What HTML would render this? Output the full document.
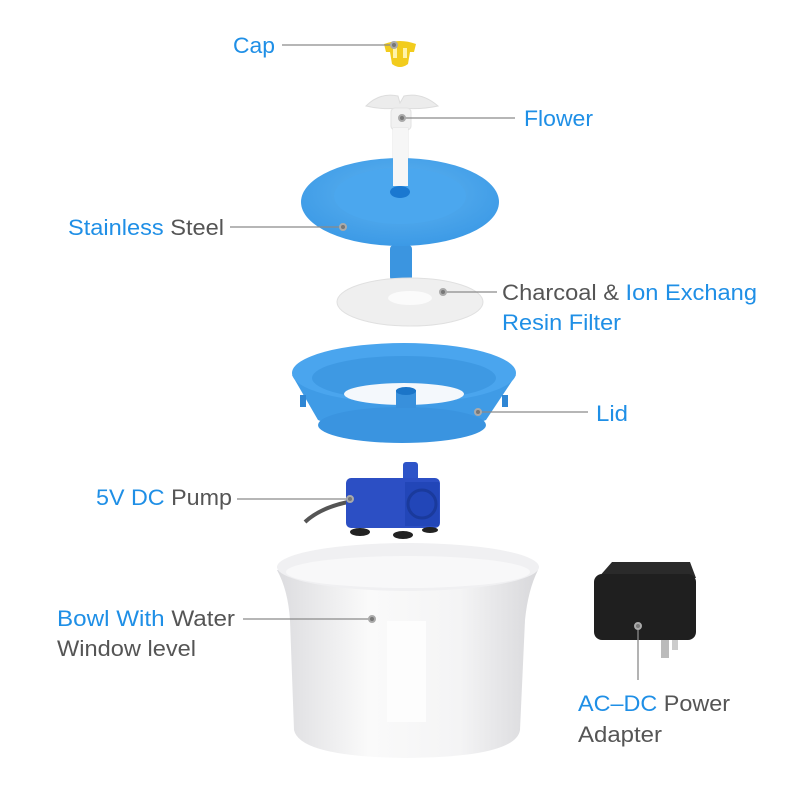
<!DOCTYPE html>
<html><head><style>
body{margin:0;background:#fff;}
svg{display:block;}
text{font-family:"Liberation Sans",sans-serif;font-size:22px;}
.b{fill:#1f8fe6;} .g{fill:#555;}
</style></head><body>
<svg width="800" height="800" viewBox="0 0 800 800" xmlns="http://www.w3.org/2000/svg">
<defs>
<linearGradient id="bowl" x1="0" x2="1" y1="0" y2="0">
<stop offset="0" stop-color="#dcdcdf"/><stop offset="0.35" stop-color="#fafafa"/><stop offset="0.7" stop-color="#f4f4f5"/><stop offset="1" stop-color="#d8d8db"/></linearGradient>
<radialGradient id="blue" cx="0.5" cy="0.4" r="0.6"><stop offset="0" stop-color="#5fb3f0"/><stop offset="1" stop-color="#3c9ae6"/></radialGradient>
</defs>
<!-- Cap -->
<path d="M384 44 Q400 38 416 44 L414 52 L410 52 L408 64 Q400 70 392 64 L390 52 L386 52 Z" fill="#f2cc1d"/>
<rect x="393" y="48" width="4" height="10" fill="#fff3a8"/><rect x="403" y="48" width="4" height="10" fill="#fff3a8"/>
<!-- Flower -->
<path d="M366 106 Q380 92 398 96 L400 103 L404 96 Q422 92 438 106 Q420 110 400 108 Q382 110 366 106 Z" fill="#ececec" stroke="#ddd"/>
<rect x="391" y="108" width="20" height="22" rx="4" fill="#f1f1f1" stroke="#e2e2e2"/>
<rect x="393" y="128" width="15" height="60" fill="#f6f6f6" stroke="#e4e4e4"/>
<!-- Steel plate -->
<rect x="390" y="245" width="22" height="36" rx="4" fill="#3b95e0"/>
<ellipse cx="400" cy="202" rx="99" ry="44" fill="url(#blue)"/>
<ellipse cx="400" cy="196" rx="66" ry="28" fill="#4ba7ee"/>
<ellipse cx="400" cy="192" rx="10" ry="6" fill="#1a78d0"/>
<rect x="393" y="128" width="15" height="58" fill="#f6f6f6"/>
<!-- Filter -->
<ellipse cx="410" cy="302" rx="73" ry="24" fill="#efefef" stroke="#e0e0e0"/>
<ellipse cx="410" cy="298" rx="22" ry="7" fill="#fbfbfb"/>
<!-- Lid -->
<path d="M292 375 L318 420 Q402 455 486 420 L516 375 Z" fill="#3f9be6"/>
<ellipse cx="402" cy="425" rx="84" ry="18" fill="#3a94e0"/>
<ellipse cx="404" cy="373" rx="112" ry="30" fill="#4aa5ee"/>
<ellipse cx="404" cy="378" rx="92" ry="22" fill="#3e99e3"/>
<ellipse cx="404" cy="394" rx="60" ry="11" fill="#f4f8fc"/>
<rect x="396" y="390" width="20" height="18" fill="#3890dc"/><ellipse cx="406" cy="391" rx="10" ry="4" fill="#1b75c8"/>
<rect x="300" y="395" width="6" height="12" fill="#2f86d4"/><rect x="502" y="395" width="6" height="12" fill="#2f86d4"/>
<!-- Pump -->
<path d="M348 502 Q320 508 305 522" stroke="#555" stroke-width="4" fill="none"/>
<rect x="403" y="462" width="15" height="22" rx="3" fill="#2d54c8"/>
<rect x="346" y="478" width="94" height="50" rx="5" fill="#2c4fc4"/>
<rect x="405" y="482" width="34" height="44" fill="#2246b8"/>
<circle cx="422" cy="504" r="14" fill="none" stroke="#1a3a9c" stroke-width="3"/>
<ellipse cx="360" cy="532" rx="10" ry="4" fill="#222"/><ellipse cx="403" cy="535" rx="10" ry="4" fill="#222"/><ellipse cx="430" cy="530" rx="8" ry="3" fill="#222"/>
<!-- Bowl -->
<path d="M277 570 Q288 590 290 620 L294 730 Q300 757 408 758 Q516 757 520 730 L525 620 Q528 590 538 570 Z" fill="url(#bowl)"/>
<ellipse cx="408" cy="567" rx="131" ry="24" fill="#f0f0f2"/>
<ellipse cx="408" cy="572" rx="122" ry="16" fill="#f8f8f9"/>
<rect x="387" y="621" width="39" height="101" fill="#fdfdfd"/>
<!-- Adapter -->
<rect x="661" y="636" width="8" height="22" fill="#bbb"/><rect x="672" y="636" width="6" height="14" fill="#ccc"/>
<path d="M612 562 L690 562 L696 578 L598 578 Z" fill="#2a2a2a"/>
<rect x="594" y="574" width="102" height="66" rx="8" fill="#1f1f1f"/>
<!-- Leader lines -->
<g stroke="#8a8a8a" stroke-width="1.3">
<line x1="282" y1="45" x2="394" y2="45"/>
<line x1="402" y1="118" x2="515" y2="118"/>
<line x1="230" y1="227" x2="343" y2="227"/>
<line x1="443" y1="292" x2="497" y2="292"/>
<line x1="478" y1="412" x2="588" y2="412"/>
<line x1="237" y1="499" x2="350" y2="499"/>
<line x1="243" y1="619" x2="372" y2="619"/>
<line x1="638" y1="628" x2="638" y2="680"/>
</g>
<g fill="#777" stroke="#aaa" stroke-width="2">
<circle cx="394" cy="45" r="3"/><circle cx="402" cy="118" r="3"/><circle cx="343" cy="227" r="3"/>
<circle cx="443" cy="292" r="3"/><circle cx="478" cy="412" r="3"/><circle cx="350" cy="499" r="3"/>
<circle cx="372" cy="619" r="3"/><circle cx="638" cy="626" r="3"/>
</g>
<!-- Labels -->
<text x="233" y="53" class="b" textLength="42" lengthAdjust="spacingAndGlyphs">Cap</text>
<text x="524" y="126" class="b" textLength="69" lengthAdjust="spacingAndGlyphs">Flower</text>
<text x="68" y="235" textLength="156" lengthAdjust="spacingAndGlyphs"><tspan class="b">Stainless</tspan><tspan class="g"> Steel</tspan></text>
<text x="502" y="300" textLength="255" lengthAdjust="spacingAndGlyphs"><tspan class="g">Charcoal &amp; </tspan><tspan class="b">Ion Exchang</tspan></text>
<text x="502" y="330" class="b" textLength="119" lengthAdjust="spacingAndGlyphs">Resin Filter</text>
<text x="596" y="421" class="b" textLength="32" lengthAdjust="spacingAndGlyphs">Lid</text>
<text x="96" y="505" textLength="136" lengthAdjust="spacingAndGlyphs"><tspan class="b">5V DC</tspan><tspan class="g"> Pump</tspan></text>
<text x="57" y="626" textLength="178" lengthAdjust="spacingAndGlyphs"><tspan class="b">Bowl With</tspan><tspan class="g"> Water</tspan></text>
<text x="57" y="656" class="g" textLength="139" lengthAdjust="spacingAndGlyphs">Window level</text>
<text x="578" y="711" textLength="152" lengthAdjust="spacingAndGlyphs"><tspan class="b">AC–DC</tspan><tspan class="g"> Power</tspan></text>
<text x="578" y="742" class="g" textLength="84" lengthAdjust="spacingAndGlyphs">Adapter</text>
</svg>
</body></html>
